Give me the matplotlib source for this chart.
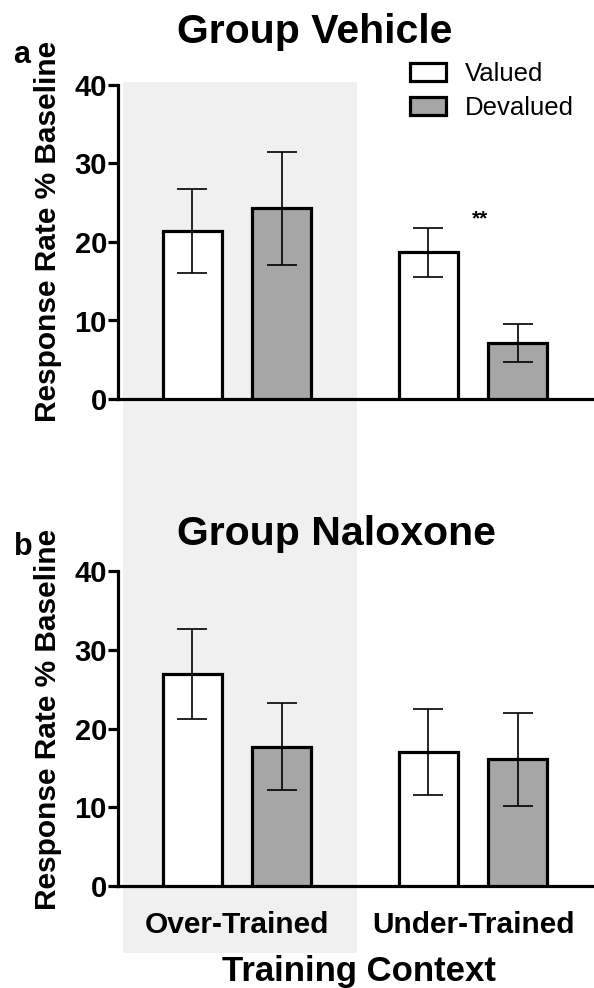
# two-panel bar chart: response rate by training context, vehicle vs naloxone

import matplotlib
matplotlib.use("Agg")
import matplotlib.pyplot as plt
from matplotlib.patches import Patch, Rectangle
from matplotlib.transforms import blended_transform_factory

plt.rcParams['font.family'] = ['Liberation Sans', 'DejaVu Sans']

contexts = ['Over-Trained', 'Under-Trained']

vehicle_valued = [21.4, 18.7]
vehicle_valued_sem = [5.4, 3.1]
vehicle_devalued = [24.3, 7.1]
vehicle_devalued_sem = [7.2, 2.4]

naloxone_valued = [26.9, 17.0]
naloxone_valued_sem = [5.7, 5.5]
naloxone_devalued = [17.7, 16.1]
naloxone_devalued_sem = [5.5, 5.9]

star_label = '**'
star_y = 23.0

VALUED_COLOR = 'white'
DEVALUED_COLOR = '#a6a6a6'
SHADE_COLOR = '#f0f0f0'


def draw_panel(ax, valued, valued_sem, devalued, devalued_sem, show_xticks):
    pos = list(range(len(contexts)))
    off, width = 0.19, 0.25
    err = dict(ecolor='black', elinewidth=1.2, capsize=11, capthick=1.2, zorder=4)
    ax.bar([p - off for p in pos], valued, width, yerr=valued_sem, color=VALUED_COLOR,
           edgecolor='black', linewidth=2.3, error_kw=err, zorder=3)
    ax.bar([p + off for p in pos], devalued, width, yerr=devalued_sem, color=DEVALUED_COLOR,
           edgecolor='black', linewidth=2.3, error_kw=err, zorder=3)
    ax.set_xlim(-0.504, 1.508)
    ax.set_ylim(0, 40)
    ax.set_yticks([0, 10, 20, 30, 40])
    ax.set_facecolor('none')
    for s in ['top', 'right']:
        ax.spines[s].set_visible(False)
    for s in ['left', 'bottom']:
        ax.spines[s].set_linewidth(2.3)
    ax.tick_params(axis='y', length=7, width=2.3, pad=1, labelsize=21)
    ax.tick_params(axis='x', length=0, pad=18, labelsize=21.5)
    for lab in ax.get_yticklabels():
        lab.set_fontweight('bold')
    if show_xticks:
        ax.set_xticks(pos)
        ax.set_xticklabels(contexts, fontweight='bold')
    else:
        ax.set_xticks([])
    ax.set_ylabel('Response Rate % Baseline', fontsize=21.5, fontweight='bold', va='center')


fig = plt.figure(figsize=(5.94, 9.88), dpi=100)
ax_a = fig.add_axes([118 / 594, 1 - 399 / 988, 475 / 594, 314 / 988])
ax_b = fig.add_axes([118 / 594, 1 - 886 / 988, 475 / 594, 315 / 988])

draw_panel(ax_a, vehicle_valued, vehicle_valued_sem, vehicle_devalued, vehicle_devalued_sem, False)
draw_panel(ax_b, naloxone_valued, naloxone_valued_sem, naloxone_devalued, naloxone_devalued_sem, True)

ax_a.yaxis.set_label_coords(-0.147, 0.535)
ax_b.yaxis.set_label_coords(-0.147, 0.53)

ax_a.text(1.03, star_y, star_label, ha='center', va='center', fontsize=15, fontweight='bold')

# shaded over-trained column spanning both panels
tr = blended_transform_factory(ax_a.transData, fig.transFigure)
fig.patches.append(Rectangle((-0.483, 1 - 953 / 988), 0.99, (953 - 82) / 988, transform=tr,
                             facecolor=SHADE_COLOR, edgecolor='none', zorder=-1))

fig.text(177 / 594, 1 - 43 / 988, 'Group Vehicle', fontsize=29.5, fontweight='bold',
         ha='left', va='baseline')
fig.text(177 / 594, 1 - 545 / 988, 'Group Naloxone', fontsize=29.5, fontweight='bold',
         ha='left', va='baseline')
fig.text(22 / 594, 1 - 63 / 988, 'a', fontsize=22, fontweight='bold', ha='center', va='baseline')
fig.text(23 / 594, 1 - 555 / 988, 'b', fontsize=22, fontweight='bold', ha='center', va='baseline')
fig.text(359 / 594, 1 - 981 / 988, 'Training Context', fontsize=25, fontweight='bold',
         ha='center', va='baseline')

handles = [Patch(facecolor=VALUED_COLOR, edgecolor='black', linewidth=2.3, label='Valued'),
           Patch(facecolor=DEVALUED_COLOR, edgecolor='black', linewidth=2.3, label='Devalued')]
fig.legend(handles=handles, loc='upper left', bbox_to_anchor=(410 / 594, 1 - 62 / 988),
           frameon=False, fontsize=18.5, handlelength=1.4, handleheight=0.7,
           handletextpad=0.75, labelspacing=0.4, borderpad=0, borderaxespad=0)

fig.savefig('out.png', dpi=100)
